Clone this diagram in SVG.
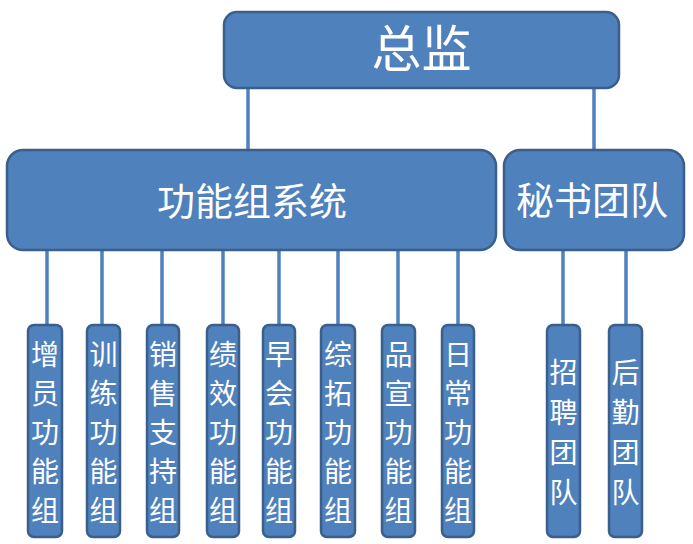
<svg xmlns="http://www.w3.org/2000/svg" width="693" height="544" viewBox="0 0 693 544">
<style>
.box{fill:#4F81BD;stroke:#3A5F8B;stroke-width:2.5}
.t{fill:#fff;font-family:"Noto Sans CJK SC","Noto Sans",sans-serif;text-anchor:middle}
.s{font-size:28px}
.c{stroke:#4F81BD;stroke-width:3.5;fill:none}
</style>
<rect width="693" height="544" fill="#fff"/>
<g id="connectors">
<path class="c" d="M248 88V150M594 88V150"/>
<path class="c" d="M47 250V326M102 250V326M162 250V326M223 250V326M279 250V326M338 250V326M398 250V326M458 250V326M563 250V326M626 250V326"/>
</g>
<g id="n-director"><rect class="box" x="224" y="12" width="395" height="76" rx="13"/><text class="t" x="421.5" y="67" font-size="50">总监</text></g>
<g id="n-func"><rect class="box" x="7" y="150" width="489" height="100" rx="16"/><text class="t" x="252" y="215" font-size="38">功能组系统</text></g>
<g id="n-sec"><rect class="box" x="504" y="150" width="180" height="100" rx="16"/><text class="t" x="592" y="214" font-size="38">秘书团队</text></g>
<g id="n1"><rect class="box" x="28" y="325" width="34" height="212" rx="6"/><text class="t s"><tspan x="45" y="365">增</tspan><tspan x="45" y="404">员</tspan><tspan x="45" y="443">功</tspan><tspan x="45" y="482">能</tspan><tspan x="45" y="521">组</tspan></text></g>
<g id="n2"><rect class="box" x="87" y="325" width="33" height="212" rx="6"/><text class="t s"><tspan x="103.5" y="365">训</tspan><tspan x="103.5" y="404">练</tspan><tspan x="103.5" y="443">功</tspan><tspan x="103.5" y="482">能</tspan><tspan x="103.5" y="521">组</tspan></text></g>
<g id="n3"><rect class="box" x="147" y="325" width="32" height="212" rx="6"/><text class="t s"><tspan x="163" y="365">销</tspan><tspan x="163" y="404">售</tspan><tspan x="163" y="443">支</tspan><tspan x="163" y="482">持</tspan><tspan x="163" y="521">组</tspan></text></g>
<g id="n4"><rect class="box" x="207" y="325" width="32" height="212" rx="6"/><text class="t s"><tspan x="223" y="365">绩</tspan><tspan x="223" y="404">效</tspan><tspan x="223" y="443">功</tspan><tspan x="223" y="482">能</tspan><tspan x="223" y="521">组</tspan></text></g>
<g id="n5"><rect class="box" x="263" y="325" width="32" height="212" rx="6"/><text class="t s"><tspan x="279" y="365">早</tspan><tspan x="279" y="404">会</tspan><tspan x="279" y="443">功</tspan><tspan x="279" y="482">能</tspan><tspan x="279" y="521">组</tspan></text></g>
<g id="n6"><rect class="box" x="321" y="325" width="34" height="212" rx="6"/><text class="t s"><tspan x="338" y="365">综</tspan><tspan x="338" y="404">拓</tspan><tspan x="338" y="443">功</tspan><tspan x="338" y="482">能</tspan><tspan x="338" y="521">组</tspan></text></g>
<g id="n7"><rect class="box" x="382" y="325" width="33" height="212" rx="6"/><text class="t s"><tspan x="398.5" y="365">品</tspan><tspan x="398.5" y="404">宣</tspan><tspan x="398.5" y="443">功</tspan><tspan x="398.5" y="482">能</tspan><tspan x="398.5" y="521">组</tspan></text></g>
<g id="n8"><rect class="box" x="442" y="325" width="32" height="212" rx="6"/><text class="t s"><tspan x="458" y="365">日</tspan><tspan x="458" y="404">常</tspan><tspan x="458" y="443">功</tspan><tspan x="458" y="482">能</tspan><tspan x="458" y="521">组</tspan></text></g>
<g id="n9"><rect class="box" x="547" y="325" width="33" height="212" rx="6"/><text class="t s"><tspan x="563.5" y="383">招</tspan><tspan x="563.5" y="423">聘</tspan><tspan x="563.5" y="463">团</tspan><tspan x="563.5" y="503">队</tspan></text></g>
<g id="n10"><rect class="box" x="609" y="325" width="33" height="212" rx="6"/><text class="t s"><tspan x="625.5" y="383">后</tspan><tspan x="625.5" y="423">勤</tspan><tspan x="625.5" y="463">团</tspan><tspan x="625.5" y="503">队</tspan></text></g>
</svg>
